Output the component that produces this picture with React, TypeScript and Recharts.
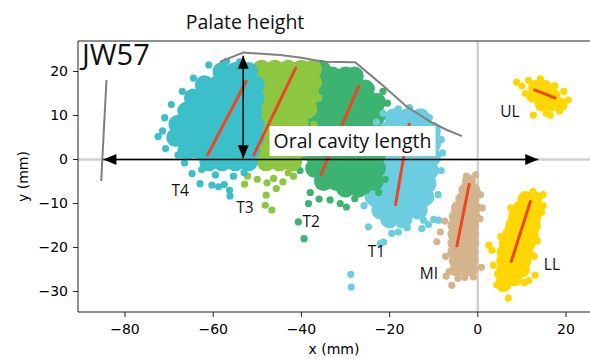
import React from 'react';
import { ScatterChart, Scatter, XAxis, YAxis, ReferenceLine } from 'recharts';

const X_DOMAIN: [number, number] = [-90.66, 25.44];
const Y_DOMAIN: [number, number] = [-34.66, 26.93];
const X_TICKS = [-80, -60, -40, -20, 0, 20];
const Y_TICKS = [-30, -20, -10, 0, 10, 20];

type P = [number, number];

// ---- cluster samples ----
const T4_CORE: P[] = [
  [-58, 20], [-55, 20], [-52, 20],
  [-62, 17], [-59, 17], [-56, 17], [-53, 17], [-50.5, 17],
  [-64.5, 14], [-61.5, 14], [-58.5, 14], [-55.5, 14], [-52.5, 14], [-50.5, 14],
  [-66, 11], [-63, 11], [-60, 11], [-57, 11], [-54, 11], [-51, 11],
  [-68, 8], [-65, 8], [-62, 8], [-59, 8], [-56, 8], [-53, 8], [-50.5, 8],
  [-68.5, 5], [-65.5, 5], [-62.5, 5], [-59.5, 5], [-56.5, 5], [-53.5, 5], [-50.5, 5],
  [-66, 2], [-63, 2], [-60, 2], [-57, 2], [-54, 2], [-51.5, 2],
  [-61, -0.5], [-58, -0.5], [-55, -0.5], [-52, -0.5],
];
const T4_FRINGE: P[] = [
  [-64.8, -3.2], [-63, -5.5], [-60.3, -5.8], [-58.8, -6.2], [-56.3, -7.0], [-56.2, -8.3],
  [-62.6, -2.3], [-57.5, -5.7], [-55.4, -3.8], [-59.5, -3.5], [-53, -3], [-71.5, 6.5],
  [-72.5, 5.2], [-71, 9.5], [-69.5, 12.5], [-67, 15.5], [-64.5, 18.5], [-61, 21.5],
  [-70.8, 2.5], [-68, 1], [-66.5, -0.8], [-54, 22.2], [-57, 22.3],
];

const T3_CORE: P[] = [
  [-49, 20.5], [-46, 20.5], [-43, 20.5], [-40, 20.5], [-37.5, 20.5],
  [-49, 17.5], [-46, 17.5], [-43, 17.5], [-40, 17.5], [-37.5, 17.5],
  [-49, 14.5], [-46, 14.5], [-43, 14.5], [-40, 14.5], [-38, 14.5],
  [-49, 11.5], [-46, 11.5], [-43, 11.5], [-40, 11.5], [-38.5, 11.5],
  [-49, 8.5], [-46, 8.5], [-43, 8.5], [-40.5, 8.5],
  [-49, 5.5], [-46, 5.5], [-43, 5.5], [-40.5, 5.5],
  [-49, 2.5], [-46, 2.5], [-43, 2.5], [-40.5, 2.5],
  [-48, -0.5], [-45, -0.5], [-42, -0.5],
];
const T3_FRINGE: P[] = [
  [-52.9, -5.6], [-48, -8.1], [-48.2, -10.4], [-46.7, -11.5], [-45.7, -6.6], [-44.2, -5.1],
  [-47.8, -5.3], [-46.3, -4.3], [-52.2, -3.8], [-41.8, -3.8], [-41.4, -1.7], [-50, -4.5],
  [-43, -3], [-39, 1.5], [-38, 5], [-37.2, 8], [-36, 14],
];

const T2_CORE: P[] = [
  [-35.5, 20.5], [-33, 19], [-30, 19], [-28, 19],
  [-36, 17.5], [-34, 16], [-31, 16], [-28, 16], [-25.5, 16],
  [-37, 14.5], [-35, 13], [-32, 13], [-29, 13], [-26, 13], [-23, 13],
  [-37.5, 11.5], [-35, 10], [-32, 10], [-29, 10], [-26, 10], [-23, 10],
  [-38.5, 8.5], [-36, 7], [-33, 7], [-30, 7], [-27, 7], [-24, 7],
  [-38.5, 5.5], [-36.5, 4], [-33.5, 4], [-30.5, 4], [-27.5, 4], [-24.5, 4], [-22.5, 4],
  [-39, 2], [-37, 1], [-34, 1], [-31, 1], [-28, 1], [-25, 1], [-23, 1],
  [-37, -2], [-34, -2], [-31, -2], [-28, -2], [-25, -2], [-23, -2],
  [-35, -5], [-32, -5], [-29, -5], [-26, -5], [-23.5, -5],
  [-30, -6.5], [-27, -6.5],
];
const T2_FRINGE: P[] = [
  [-38.4, -10], [-40.7, -14.2], [-39.4, -18], [-31.2, -10], [-27.9, -8.9], [-25.2, -7],
  [-29.8, -10.8], [-38, -7.5], [-36, -9], [-33.5, -9.2], [-21.5, 15.5], [-20.5, 12.8],
  [-21, -4.5], [-22.5, -7.5], [-40.3, -2.5], [-39.5, 3],
];

const T1_CORE: P[] = [
  [-19, 9.5], [-16, 9.5], [-13, 9.5],
  [-21, 6.5], [-18, 6.5], [-15, 6.5], [-12, 6.5], [-10.5, 6.5],
  [-22, 3.5], [-19, 3.5], [-16, 3.5], [-13, 3.5], [-10.5, 3.5],
  [-23, 0.5], [-20, 0.5], [-17, 0.5], [-14, 0.5], [-11, 0.5], [-10.5, 0.5],
  [-23, -2.5], [-20, -2.5], [-17, -2.5], [-14, -2.5], [-11, -2.5],
  [-23.5, -5.5], [-20.5, -5.5], [-17.5, -5.5], [-14.5, -5.5], [-11.5, -5.5],
  [-23.5, -8.5], [-20.5, -8.5], [-17.5, -8.5], [-14.5, -8.5], [-12, -8.5],
  [-22, -11.5], [-19, -11.5], [-16, -11.5], [-13.5, -11.5],
  [-20, -13.5], [-17, -13.5],
];
const T1_FRINGE: P[] = [
  [-22.1, -19.1], [-21.4, -18.8], [-28.8, -26.1], [-28.7, -29], [-24.8, -15.3], [-12.3, -13.8],
  [-12.7, -15.7], [-10, -13.6], [-8.9, -13.8], [-11.2, -14.8], [-8.3, 4.5], [-8, 1.5],
  [-8.3, -2.5], [-9, -8], [-21.5, 10.5], [-23, 8.5], [-18, -16.5], [-16, -15.5],
  [-19.5, -16.8], [-25.8, -10.5], [-15.5, 11.8], [-18, 11.5], [-11, 9.5],
];

const MI_CORE: P[] = [
  [-2, -5],
  [-2.8, -7], [-1, -7],
  [-3.5, -9], [-1.2, -9],
  [-4.5, -11], [-2.5, -11], [-0.8, -11],
  [-5, -13], [-3, -13], [-1, -13],
  [-5.3, -15], [-3.3, -15], [-1.3, -15],
  [-5.3, -17], [-3.3, -17], [-1.3, -17],
  [-5.3, -19], [-3.3, -19], [-1.3, -19],
  [-5.3, -21], [-3.3, -21], [-1.5, -21],
  [-5, -23], [-3, -23], [-1.5, -23],
  [-4.8, -25], [-2.8, -25], [-1.5, -25],
];
const MI_FRINGE: P[] = [
  [-5.9, -28.6], [-9.3, -18.7], [-8.5, -16.5], [-7.2, -26.5], [-3, -26.8], [-1, -26.7],
  [0.8, -24.5], [1, -11], [0.5, -13.5], [-7.5, -14], [-0.5, -3.5], [-7.3, -22],
  [-4.5, -27], [-6.5, -25.5], [0.6, -8], [-2.6, -3.8],
];

const LL_CORE: P[] = [
  [10.8, -9], [12.8, -9],
  [9.8, -11], [12.5, -11],
  [8.7, -13], [11, -13], [12.6, -13],
  [8, -15], [10.3, -15], [12.5, -15],
  [7.3, -17], [9.6, -17], [12, -17],
  [6.6, -19], [9, -19], [11.4, -19],
  [6.1, -21], [8.5, -21], [10.8, -21],
  [6, -23], [8.3, -23], [10.4, -23],
  [6, -25], [8.2, -25], [10, -25],
  [6, -27], [8.3, -27],
  [5.8, -28.3],
];
const LL_FRINGE: P[] = [
  [3.2, -20.6], [6.9, -31.5], [13, -26.3], [3.5, -24], [14.8, -8], [2.5, -19.5],
  [4.3, -28.5], [11.5, -27.5], [12.5, -7.3], [14.5, -12], [13.5, -18.5], [12.8, -22],
  [4.5, -26], [5.2, -17.5], [7.5, -11], [14.8, -10.5], [10.5, -28],
];

const UL_CORE: P[] = [
  [13, 16.5], [15.3, 16.5],
  [12.5, 14.5], [14.8, 14.5], [17.2, 14.5],
  [14.5, 12.5], [16.8, 12.5], [18.8, 12.5],
];
const UL_FRINGE: P[] = [
  [8.8, 17.6], [10, 16.7], [12.6, 10.1], [16.4, 10.1], [20.5, 13.5], [18.5, 11],
  [11.5, 18], [10.8, 15], [19.5, 15.5], [17.5, 16.8], [14.2, 18.3], [15.5, 10.5],
];

// ---- fitted segments (red) ----
const RED_SEGMENTS: P[][] = [
  [[-61.4, 0.8], [-52.4, 18.0]],
  [[-50.9, 0.8], [-41.2, 21.0]],
  [[-35.7, -3.7], [-26.9, 16.9]],
  [[-18.7, -10.5], [-15.5, 8.3]],
  [[-4.8, -19.9], [-1.9, -5.4]],
  [[7.5, -23.4], [12.0, -9.3]],
  [[12.6, 15.95], [17.8, 13.9]],
];

// ---- outlines (gray) ----
const PALATE: P[] = [
  [-58.5, 22.2], [-53.2, 24.3], [-44.8, 23.75], [-40, 23.1], [-35, 22.2], [-27.8, 22.1],
  [-22.1, 17.3], [-16.1, 12], [-10.8, 8.6], [-7, 6.7], [-3.6, 5.3],
];
const PHARYNX: P[] = [[-84.2, 18.1], [-85.4, -4.9]];

// ---- arrows ----
const LENGTH_ARROW: P[] = [[-84.9, 0], [13.7, 0]];
const HEIGHT_ARROW: P[] = [[-53.2, 23.6], [-53.2, 0.3]];
const ARROW_HEADS = [
  { x: -84.9, y: 0, dir: 'left' },
  { x: 13.7, y: 0, dir: 'right' },
  { x: -53.2, y: 23.6, dir: 'up' },
  { x: -53.2, y: 0.3, dir: 'down' },
];

// ---- labels ----
const LABELS = [
  { x: -67.5, y: -7.05, text: 'T4', size: 15.5, anchor: 'middle' },
  { x: -52.8, y: -10.9, text: 'T3', size: 15.5, anchor: 'middle' },
  { x: -37.8, y: -14.0, text: 'T2', size: 15.5, anchor: 'middle' },
  { x: -23.0, y: -20.8, text: 'T1', size: 15.5, anchor: 'middle' },
  { x: -11.1, y: -25.9, text: 'MI', size: 15.5, anchor: 'middle' },
  { x: 16.8, y: -23.75, text: 'LL', size: 15.5, anchor: 'middle' },
  { x: 7.3, y: 11.0, text: 'UL', size: 15.5, anchor: 'middle' },
  { x: -89.75, y: 23.75, text: 'JW57', size: 29, anchor: 'start' },
];
const BOX_LABEL = [{ x: -28.4, y: 4.2, text: 'Oral cavity length' }];
const TITLE = 'Palate height';

const toPts = (a: P[]) => a.map(([x, y]) => ({ x, y }));

const CLUSTERS = [
  { name: 'T1', color: '#6bcddf', core: T1_CORE, fringe: T1_FRINGE, r: 9.5 },
  { name: 'T2', color: '#3cb371', core: T2_CORE, fringe: T2_FRINGE, r: 9.5 },
  { name: 'T3', color: '#8dc63f', core: T3_CORE, fringe: T3_FRINGE, r: 9.5 },
  { name: 'T4', color: '#3bbfc9', core: T4_CORE, fringe: T4_FRINGE, r: 9.5 },
  { name: 'MI', color: '#d3b48c', core: MI_CORE, fringe: MI_FRINGE, r: 7 },
  { name: 'LL', color: '#ffd700', core: LL_CORE, fringe: LL_FRINGE, r: 8 },
  { name: 'UL', color: '#ffd700', core: UL_CORE, fringe: UL_FRINGE, r: 7 },
];

const RED = '#ee4526';
const LABEL_FONT = "'Open Sans', 'DejaVu Sans', sans-serif";
const TICK_FONT = "'DejaVu Sans', sans-serif";

const fmt = (v: number) => (v < 0 ? `\u2212${-v}` : `${v}`);

const dotShape = (r: number, color: string) => (props: any) =>
  props.cx == null ? <g /> : <circle cx={props.cx} cy={props.cy} r={r} fill={color} />;

const noShape = () => <g />;

const arrowShape = (props: any) => {
  const { cx, cy, payload } = props;
  if (cx == null) return <g />;
  const L = 13;
  const W = 5.5;
  let pts = '';
  switch (payload.dir) {
    case 'left':
      pts = `${cx},${cy} ${cx + L},${cy - W} ${cx + L},${cy + W}`;
      break;
    case 'right':
      pts = `${cx},${cy} ${cx - L},${cy - W} ${cx - L},${cy + W}`;
      break;
    case 'up':
      pts = `${cx},${cy} ${cx - W},${cy + L} ${cx + W},${cy + L}`;
      break;
    default:
      pts = `${cx},${cy} ${cx - W},${cy - L} ${cx + W},${cy - L}`;
  }
  return <polygon points={pts} fill="#000" />;
};

const labelShape = (props: any) => {
  const { cx, cy, payload } = props;
  if (cx == null) return <g />;
  return (
    <text
      x={cx}
      y={cy}
      dy="0.36em"
      textAnchor={payload.anchor}
      fontSize={payload.size}
      fontFamily={LABEL_FONT}
      fill="#111"
    >
      {payload.text}
    </text>
  );
};

const boxShape = (props: any) => {
  const { cx, cy, payload } = props;
  if (cx == null) return <g />;
  return (
    <g>
      <rect x={cx - 83} y={cy - 15} width={166} height={30} fill="#fff" />
      <text x={cx} y={cy + 6.5} textAnchor="middle" fontSize={19.5} fontFamily={LABEL_FONT} fill="#111">
        {payload.text}
      </text>
    </g>
  );
};

const yLabel = (props: any) => {
  const vb = props.viewBox || { x: 0, y: 41, width: 78, height: 271 };
  const x = vb.x + 23;
  const y = vb.y + vb.height / 2;
  return (
    <text
      x={x}
      y={y}
      transform={`rotate(-90, ${x}, ${y})`}
      textAnchor="middle"
      dominantBaseline="central"
      fontSize={14}
      fontFamily={TICK_FONT}
      fill="#000"
    >
      y (mm)
    </text>
  );
};

export default function App() {
  return (
    <div style={{ position: 'absolute', left: 0, top: 0, width: 590, height: 359, background: '#fff' }}>
      <svg width={590} height={40} style={{ position: 'absolute', left: 0, top: 0 }}>
        <text x={245} y={29.3} textAnchor="middle" fontSize={19.5} fontFamily={LABEL_FONT} fill="#111">
          {TITLE}
        </text>
      </svg>
      <div style={{ position: 'absolute', left: 0, top: 0 }}>
        <ScatterChart width={590} height={359} margin={{ top: 41, right: 0, bottom: 0, left: 0 }}>
          <XAxis
            type="number"
            dataKey="x"
            domain={X_DOMAIN}
            allowDataOverflow
            ticks={X_TICKS}
            tickFormatter={fmt}
            height={47}
            tickSize={5}
            tickMargin={7}
            stroke="#222"
            tick={{ fontSize: 14, fontFamily: TICK_FONT, fill: '#000' }}
            label={{ value: 'x (mm)', position: 'insideBottom', offset: 5, fontSize: 14, fontFamily: TICK_FONT, fill: '#000' }}
          />
          <YAxis
            type="number"
            dataKey="y"
            domain={Y_DOMAIN}
            allowDataOverflow
            ticks={Y_TICKS}
            tickFormatter={fmt}
            width={78}
            tickSize={5}
            tickMargin={5}
            stroke="#222"
            tick={{ fontSize: 14, fontFamily: TICK_FONT, fill: '#000' }}
            label={{ content: yLabel }}
          />
          <ReferenceLine x={0} stroke="#d0d0d0" strokeWidth={2.5} />
          <ReferenceLine y={0} stroke="#d0d0d0" strokeWidth={2.5} />
          <ReferenceLine y={Y_DOMAIN[1]} stroke="#222" strokeWidth={1.2} />

          {CLUSTERS.map((c) => (
            <Scatter
              key={c.name + '-core'}
              data={toPts(c.core)}
              shape={dotShape(c.r, c.color)}
              isAnimationActive={false}
            />
          ))}
          {CLUSTERS.map((c) => (
            <Scatter
              key={c.name + '-fringe'}
              data={toPts(c.fringe)}
              shape={dotShape(3.6, c.color)}
              isAnimationActive={false}
            />
          ))}

          <Scatter data={toPts(PALATE)} line={{ stroke: '#808080', strokeWidth: 2 }} shape={noShape} isAnimationActive={false} />
          <Scatter data={toPts(PHARYNX)} line={{ stroke: '#808080', strokeWidth: 2 }} shape={noShape} isAnimationActive={false} />

          {RED_SEGMENTS.map((s, i) => (
            <Scatter key={'red' + i} data={toPts(s)} line={{ stroke: RED, strokeWidth: 3 }} shape={noShape} isAnimationActive={false} />
          ))}

          <Scatter data={toPts(LENGTH_ARROW)} line={{ stroke: '#000', strokeWidth: 1.5 }} shape={noShape} isAnimationActive={false} />
          <Scatter data={toPts(HEIGHT_ARROW)} line={{ stroke: '#000', strokeWidth: 1.5 }} shape={noShape} isAnimationActive={false} />
          <Scatter data={ARROW_HEADS} shape={arrowShape} isAnimationActive={false} />

          <Scatter data={BOX_LABEL} shape={boxShape} isAnimationActive={false} />
          <Scatter data={LABELS} shape={labelShape} isAnimationActive={false} />
        </ScatterChart>
      </div>
    </div>
  );
}
